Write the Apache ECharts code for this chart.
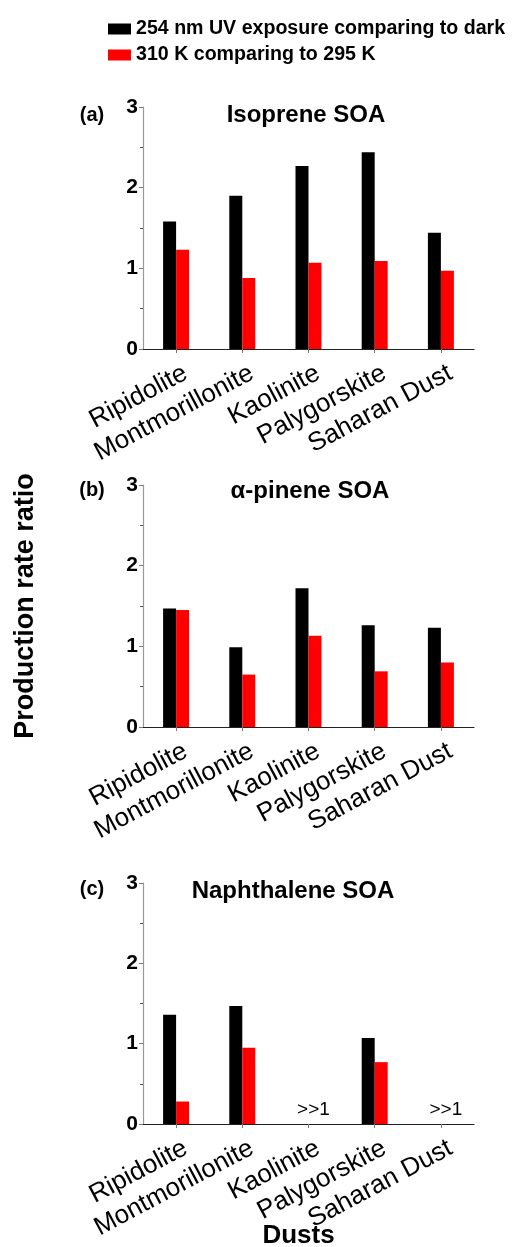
<!DOCTYPE html>
<html>
<head>
<meta charset="utf-8">
<script src="https://cdn.jsdelivr.net/npm/echarts@6/dist/echarts.min.js"></script>
<style>
html,body{margin:0;padding:0;background:#fff;}
#chart{width:512px;height:1247px;}
</style>
</head>
<body>
<div id="chart"></div>
<script>
var categories = ['Ripidolite', 'Montmorillonite', 'Kaolinite', 'Palygorskite', 'Saharan Dust'];
var seriesNames = ['254 nm UV exposure comparing to dark', '310 K comparing to 295 K'];
var panelLabels = ['(a)', '(b)', '(c)'];
var panelTitles = ['Isoprene SOA', '\u03b1-pinene SOA', 'Naphthalene SOA'];
var yTicks = [0, 1, 2, 3];

var isopreneUV = [1.58, 1.90, 2.27, 2.44, 1.44];
var isopreneTemp = [1.23, 0.88, 1.07, 1.09, 0.97];
var pineneUV = [1.47, 0.99, 1.72, 1.26, 1.23];
var pineneTemp = [1.45, 0.65, 1.13, 0.69, 0.80];
var naphUV = [1.36, 1.47, null, 1.07, null];
var naphTemp = [0.28, 0.95, null, 0.77, null];
var naphNote = ['', '', '>>1', '', '>>1'];

var FONT = 'Liberation Sans, Arial, sans-serif';
var BLACK = '#000000';
var RED = '#ff0000';

var grids = [
  {left: 143, right: 38, top: 107, height: 242, outerBoundsMode: 'none', containLabel: false},
  {left: 143, right: 38, top: 485, height: 242, outerBoundsMode: 'none', containLabel: false},
  {left: 143, right: 38, top: 883, height: 241, outerBoundsMode: 'none', containLabel: false}
];

function xAxisFor(i) {
  var ax = {
    type: 'category', gridIndex: i, data: categories,
    axisLine: {lineStyle: {color: '#222', width: 1.2}},
    axisTick: {show: true, alignWithLabel: true, length: 4, lineStyle: {color: '#777'}},
    axisLabel: {
      interval: 0, rotate: 28, color: '#000', fontFamily: FONT, fontSize: 26,
      fontWeight: 'normal', margin: 13, align: 'right', verticalAlign: 'top',
      padding: [0, -4, 0, 0]
    }
  };
  if (i === 2) {
    ax.name = 'Dusts';
    ax.nameLocation = 'middle';
    ax.nameGap = 99;
    ax.nameMoveOverlap = false;
    ax.nameTextStyle = {fontFamily: FONT, fontSize: 26, fontWeight: 'bold', color: '#000', padding: [0, 20, 0, 0]};
  }
  return ax;
}
function yAxisFor(i) {
  var ax = {
    type: 'value', gridIndex: i, min: yTicks[0], max: yTicks[yTicks.length - 1], interval: 1,
    axisLine: {show: true, lineStyle: {color: '#999', width: 1.2}},
    axisTick: {show: true, length: 4, lineStyle: {color: '#777'}},
    minorTick: {show: true, splitNumber: 2, length: 3, lineStyle: {color: '#555'}},
    splitLine: {show: false},
    axisLabel: {color: '#000', fontFamily: FONT, fontSize: 21, fontWeight: 'bold', margin: 5}
  };
  if (i === 1) {
    ax.name = 'Production rate ratio';
    ax.nameLocation = 'middle';
    ax.nameRotate = 90;
    ax.nameGap = 104;
    ax.nameTextStyle = {fontFamily: FONT, fontSize: 27, fontWeight: 'bold', color: '#000'};
  }
  return ax;
}

var uvData = [isopreneUV, pineneUV, naphUV];
var tempData = [isopreneTemp, pineneTemp, naphTemp];
var series = [];
for (var i = 0; i < 3; i++) {
  series.push({
    name: seriesNames[0], type: 'bar', xAxisIndex: i, yAxisIndex: i,
    data: uvData[i], barWidth: 13, barGap: '0%', itemStyle: {color: BLACK}
  });
  series.push({
    name: seriesNames[1], type: 'bar', xAxisIndex: i, yAxisIndex: i,
    data: tempData[i], barWidth: 13, barGap: '0%', itemStyle: {color: RED}
  });
}

var titles = [];
var labelY = [110, 485, 884];
var titleX = [301, 305, 288];
var titleY = [110, 486, 886];
for (var k = 0; k < 3; k++) {
  titles.push({text: panelLabels[k], left: 87, top: labelY[k], textAlign: 'center', textVerticalAlign: 'middle',
    textStyle: {fontFamily: FONT, fontSize: 20, fontWeight: 'bold', color: '#000'}});
  titles.push({text: panelTitles[k], left: titleX[k], top: titleY[k], textAlign: 'center', textVerticalAlign: 'middle',
    textStyle: {fontFamily: FONT, fontSize: 24, fontWeight: 'bold', color: '#000'}});
}
// ">>1" notes for off-scale values in panel (c), centred under each category
var catW = (512 - 143 - 38) / categories.length;
naphNote.forEach(function (t, j) {
  if (!t) return;
  titles.push({text: t, left: 143 + catW * (j + 0.5), top: 1105, textAlign: 'center', textVerticalAlign: 'middle',
    textStyle: {fontFamily: FONT, fontSize: 19, fontWeight: 'normal', color: '#000'}});
});

var chart = echarts.init(document.getElementById('chart'), null, {renderer: 'canvas'});
chart.setOption({
  backgroundColor: '#ffffff',
  animation: false,
  title: titles,
  legend: {
    orient: 'vertical', left: 103, top: 14, itemWidth: 23, itemHeight: 11, itemGap: 6,
    data: seriesNames, icon: 'rect',
    textStyle: {fontFamily: FONT, fontSize: 19.6, fontWeight: 'bold', color: '#000', lineHeight: 20}
  },
  grid: grids,
  xAxis: [xAxisFor(0), xAxisFor(1), xAxisFor(2)],
  yAxis: [yAxisFor(0), yAxisFor(1), yAxisFor(2)],
  series: series
});
</script>
</body>
</html>
